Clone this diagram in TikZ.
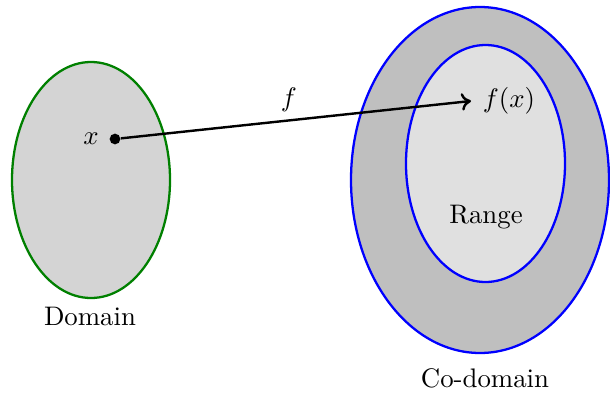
\documentclass[tikz,border=0pt]{standalone}
\usetikzlibrary{arrows.meta}
\definecolor{domfill}{HTML}{D4D4D4}
\definecolor{codfill}{HTML}{BFBFBF}
\definecolor{rngfill}{HTML}{E0E0E0}
\definecolor{domgreen}{HTML}{008000}
\begin{document}
\begin{tikzpicture}[x=0.373pt,y=-0.373pt,
  setline/.style={line width=0.85pt},
  arrowline/.style={line width=0.9pt, -{To[length=3.6pt,width=6.5pt]}},
  lbl/.style={inner sep=0pt, anchor=center},
  dotnode/.style={circle, fill=black, inner sep=0pt, minimum size=4pt}]
\useasboundingbox (0,0) rectangle (610,392);
% Domain
\draw[setline, draw=domgreen, fill=domfill] (91,180) ellipse [x radius=79, y radius=118];
% Co-domain and Range
\draw[setline, draw=blue, fill=codfill] (480,180) ellipse [x radius=129, y radius=173];
\draw[setline, draw=blue, fill=rngfill] (485.5,163.5) ellipse [x radius=79.5, y radius=118.5];
% points and labels
\node[dotnode] (p) at (115,139) {};
\node[lbl] (xl) at (91,139) {$x$};
\coordinate (fxend) at (471,101);
\node[lbl] (fxl) at (509,101) {$f(x)$};
\draw[arrowline] (p) -- (fxend);
\node[lbl] (fl) at (289,100) {$f$};
\node[lbl] (dom) at (90,316) {Domain};
\node[lbl] (rng) at (486,217) {Range};
\node[lbl] (cod) at (485,378) {Co-domain};
\end{tikzpicture}
\end{document}
